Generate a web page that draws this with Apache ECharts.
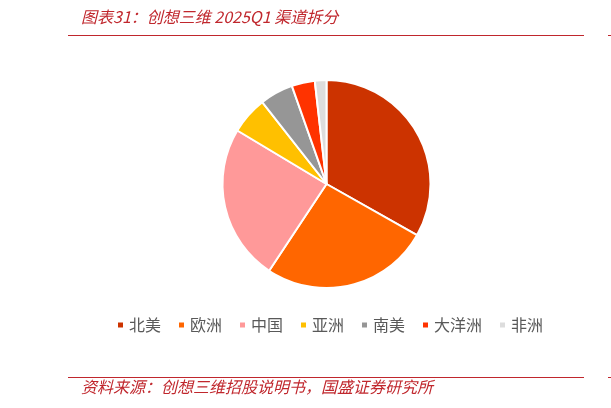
<!DOCTYPE html>
<html>
<head>
<meta charset="utf-8">
<script src="https://cdn.jsdelivr.net/npm/echarts@6/dist/echarts.min.js"></script>
<style>html,body{margin:0;padding:0;background:#fff;}#c{width:611px;height:408px;}</style>
</head>
<body>
<div id="c"></div>
<script>
const titleText = '图表31：创想三维 2025Q1 渠道拆分';
const sourceText = '资料来源：创想三维招股说明书，国盛证券研究所';
const categories = ['北美', '欧洲', '中国', '亚洲', '南美', '大洋洲', '非洲'];
const values = [33.2, 26.1, 24.3, 5.8, 5.2, 3.6, 1.8];
const colors = ['#CC3300', '#FF6600', '#FF9999', '#FFC000', '#969696', '#FF3300', '#DDDDDD'];

const chart = echarts.init(document.getElementById('c'), null, {renderer: 'canvas'});
const red = '#C0272D';
const font = '"Noto Sans CJK SC", "Noto Sans", sans-serif';
chart.setOption({
  animation: false,
  color: colors,
  textStyle: {fontFamily: font},
  legend: {
    data: categories,
    left: 116,
    top: 317,
    padding: 0,
    icon: 'rect',
    itemWidth: 7,
    itemHeight: 7,
    itemGap: 16,
    textStyle: {fontSize: 16, color: '#595959', fontFamily: font}
  },
  graphic: [
    {type: 'line', shape: {x1: 68, y1: 35.5, x2: 584, y2: 35.5}, style: {stroke: red, lineWidth: 1}},
    {type: 'line', shape: {x1: 608, y1: 35.5, x2: 611, y2: 35.5}, style: {stroke: red, lineWidth: 1}},
    {type: 'line', shape: {x1: 68, y1: 377.5, x2: 584, y2: 377.5}, style: {stroke: red, lineWidth: 1}},
    {type: 'line', shape: {x1: 608, y1: 377.5, x2: 611, y2: 377.5}, style: {stroke: red, lineWidth: 1}},
    {type: 'text', left: 81, top: 9, style: {text: titleText, fill: red, font: 'italic 16px ' + font}},
    {type: 'text', left: 81, top: 379, style: {text: sourceText, fill: red, font: 'italic 16px ' + font}}
  ],
  series: [{
    type: 'pie',
    center: [326.5, 184],
    radius: 104,
    startAngle: 90,
    clockwise: true,
    label: {show: false},
    labelLine: {show: false},
    emphasis: {disabled: true},
    itemStyle: {borderColor: '#fff', borderWidth: 2},
    data: categories.map((c, i) => ({name: c, value: values[i]}))
  }]
});
</script>
</body>
</html>
